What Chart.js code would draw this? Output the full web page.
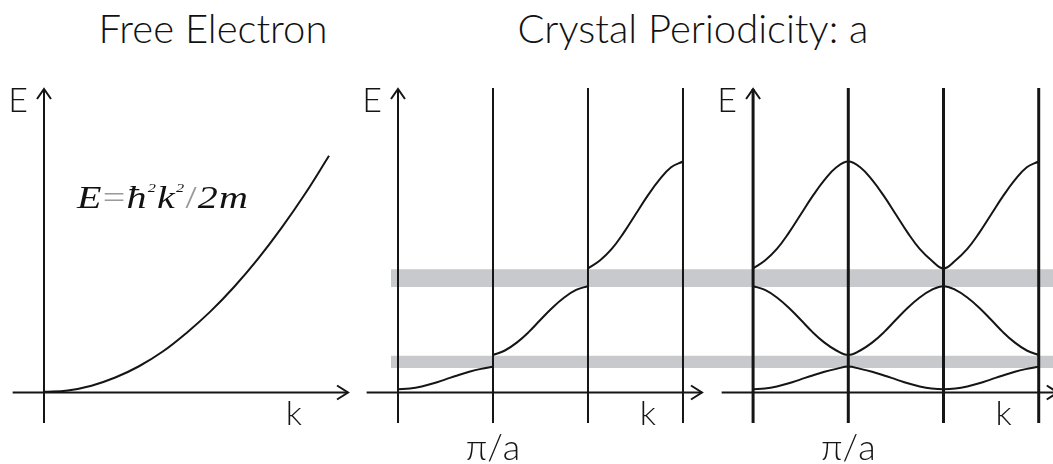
<!DOCTYPE html>
<html>
<head>
<meta charset="utf-8">
<script src="https://cdn.jsdelivr.net/npm/chart.js@4/dist/chart.umd.min.js"></script>
<style>
  html, body { margin: 0; padding: 0; background: #fff; }
  body { width: 1053px; height: 464px; position: relative; overflow: hidden; }
  .panel { position: absolute; top: 0; height: 464px; }
  .title { position: absolute; top: 8px; font-family: Lato, "Open Sans", sans-serif; font-weight: 300;
           font-size: 40px; line-height: 40px; color: #111; white-space: nowrap; text-align: center; }
  #formula { position: absolute; left: 77px; top: 181px; font-family: "Liberation Serif", serif; font-style: italic;
             font-size: 32px; line-height: 32px; letter-spacing: 1px; color: #111; white-space: nowrap;
             transform: scaleX(1.25); transform-origin: left top; }
  #formula .thin { font-style: normal; color: #999; }
  #formula sup { font-size: 13px; vertical-align: 16px; line-height: 0; }
</style>
</head>
<body>
<div class="title" style="left:63px; width:300px">Free Electron</div>
<div class="title" style="left:493px; width:400px">Crystal Periodicity: a</div>

<div class="panel" style="left:6px; width:354px"><canvas id="free" width="354" height="464"></canvas></div>
<div class="panel" style="left:360px; width:355px"><canvas id="extended" width="355" height="464"></canvas></div>
<div class="panel" style="left:715px; width:338px"><canvas id="reduced" width="338" height="464"></canvas></div>

<div id="formula">E<span class="thin">=</span>ħ<sup>2</sup>k<sup>2</sup><span class="thin">/</span>2m</div>

<script>
// k in units of pi/a, E in arbitrary units
const kFree = [0, 0.25, 0.5, 0.75, 1, 1.25, 1.5, 1.75, 2, 2.25, 2.5, 2.75, 3];
const eFree = [0.03, 0.08, 0.26, 0.57, 1.0, 1.56, 2.27, 3.08, 4.02, 5.08, 6.27, 7.58, 9.02];

// extended zone: one band per zone
const kCell = [0, 0.125, 0.25, 0.375, 0.5, 0.625, 0.75, 0.875, 1];
const bandLow = [0.12, 0.15, 0.23, 0.35, 0.50, 0.65, 0.79, 0.90, 0.98];
const bandMid = [1.43, 1.60, 1.90, 2.30, 2.77, 3.23, 3.62, 3.91, 4.05];
const bandTop = [4.73, 5.03, 5.47, 6.08, 6.78, 7.48, 8.10, 8.58, 8.80];

// periodic (repeated zone) picture
const kRepeat = [0, 0.125, 0.25, 0.375, 0.5, 0.625, 0.75, 0.875, 1,
                 1.125, 1.25, 1.375, 1.5, 1.625, 1.75, 1.875, 2,
                 2.125, 2.25, 2.375, 2.5, 2.625, 2.75, 2.875, 3];
const repLow = [0.12, 0.15, 0.23, 0.35, 0.50, 0.65, 0.79, 0.90, 0.99,
                0.90, 0.79, 0.65, 0.50, 0.35, 0.23, 0.15, 0.12,
                0.15, 0.23, 0.35, 0.50, 0.65, 0.79, 0.90, 0.98];
const repMid = [4.05, 3.91, 3.62, 3.23, 2.77, 2.30, 1.90, 1.60, 1.43,
                1.60, 1.90, 2.30, 2.77, 3.23, 3.62, 3.91, 4.05,
                3.91, 3.62, 3.23, 2.77, 2.30, 1.90, 1.60, 1.43];
const repTop = [4.73, 5.03, 5.47, 6.08, 6.78, 7.48, 8.10, 8.58, 8.80,
                8.58, 8.10, 7.48, 6.78, 6.08, 5.47, 5.03, 4.73,
                5.03, 5.47, 6.08, 6.78, 7.48, 8.10, 8.58, 8.80];

// band gaps [bottom, top]
const gapLower = [0.93, 1.40];
const gapUpper = [4.02, 4.70];

const zoneEdges = [1, 2, 3];
const tickValues = [1];
const tickLabels = ['π/a'];

const ink = '#151515';
const labelFont = '300 34px Lato, "Open Sans", sans-serif';

function pts(ks, es) {
    return ks.map((k, i) => ({x: k, y: es[i]}));
}
function shift(ks, d) {
    return ks.map(k => k + d);
}
function curve(data) {
    return {data: data, borderColor: ink, borderWidth: 2, pointRadius: 0, fill: false,
            tension: 0.4, order: 0};
}
function gap(edges, from, to) {
    return {data: [{x: from, y: edges[1]}, {x: to, y: edges[1]}],
            borderColor: 'rgba(0,0,0,0)', borderWidth: 0, pointRadius: 0, tension: 0,
            fill: {value: edges[0]}, backgroundColor: 'rgb(200,201,205)', order: 2};
}

/* axes with arrows, zone lines and labels */
const axesPlugin = {
    id: 'bandAxes',
    afterDatasetsDraw(chart, args, o) {
        const ctx = chart.ctx, xs = chart.scales.x, ys = chart.scales.y;
        const x0 = xs.getPixelForValue(0), y0 = ys.getPixelForValue(0);
        const top = ys.getPixelForValue(ys.max), bottom = ys.getPixelForValue(-1.16);
        const xl = xs.getPixelForValue(-0.33), xr = xs.getPixelForValue(3.2);
        ctx.save();
        ctx.strokeStyle = ink;
        ctx.lineCap = 'butt';

        // zone boundaries
        ctx.lineWidth = o.zoneWidth;
        (o.zones || []).forEach(z => {
            const px = xs.getPixelForValue(z);
            ctx.beginPath(); ctx.moveTo(px, bottom); ctx.lineTo(px, top); ctx.stroke();
        });

        // y axis
        ctx.lineWidth = o.zoneWidth;
        ctx.beginPath(); ctx.moveTo(x0, bottom); ctx.lineTo(x0, top + 1); ctx.stroke();
        ctx.lineWidth = 2;
        ctx.beginPath();
        ctx.moveTo(x0 - 7, top + 11); ctx.lineTo(x0, top + 1); ctx.lineTo(x0 + 7, top + 11);
        ctx.stroke();

        // x axis
        ctx.lineWidth = 2;
        ctx.beginPath(); ctx.moveTo(xl, y0); ctx.lineTo(xr, y0); ctx.stroke();
        ctx.beginPath();
        ctx.moveTo(xr - 11, y0 - 7); ctx.lineTo(xr, y0); ctx.lineTo(xr - 11, y0 + 7);
        ctx.stroke();

        // labels
        ctx.fillStyle = ink;
        ctx.font = labelFont;
        ctx.textBaseline = 'alphabetic';
        ctx.textAlign = 'right';
        ctx.fillText('E', x0 - 16, top + 24);
        ctx.textAlign = 'center';
        ctx.fillText('k', xs.getPixelForValue(2.63), 425);
        ctx.font = '300 36px Lato, "Open Sans", sans-serif';
        (o.ticks || []).forEach((v, i) => {
            ctx.fillText(tickLabels[i], xs.getPixelForValue(v), 460);
        });
        ctx.restore();
    }
};

function makeChart(id, datasets, xMin, xMax, pad, extra) {
    return new Chart(document.getElementById(id).getContext('2d'), {
        type: 'line',
        data: {datasets: datasets},
        options: {
            responsive: false,
            animation: false,
            layout: {padding: pad},
            scales: {
                x: {type: 'linear', min: xMin, max: xMax, display: false},
                y: {type: 'linear', min: -1.2, max: 11.6, display: false}
            },
            plugins: {
                legend: {display: false},
                tooltip: {enabled: false},
                bandAxes: extra
            }
        },
        plugins: [axesPlugin]
    });
}

// free electron parabola
makeChart('free', [curve(pts(kFree, eFree))], -0.4, 3.326,
    {left: 0, right: 0, top: 88, bottom: 40}, {zoneWidth: 2});

// extended zone
makeChart('extended', [
    curve(pts(kCell, bandLow)),
    curve(pts(shift(kCell, 1), bandMid)),
    curve(pts(shift(kCell, 2), bandTop)),
    gap(gapLower, -0.074, 3.34),
    gap(gapUpper, -0.074, 3.34)
], -0.4, 3.337, {left: 0, right: 0, top: 88, bottom: 40},
    {zoneWidth: 2, zones: zoneEdges, ticks: tickValues});

// periodic zone
makeChart('reduced', [
    curve(pts(kRepeat, repLow)),
    curve(pts(kRepeat, repMid)),
    curve(pts(kRepeat, repTop)),
    gap(gapLower, -0.4, 3.15),
    gap(gapUpper, -0.4, 3.15)
], -0.4, 3.15, {left: 0, right: 0, top: 88, bottom: 40},
    {zoneWidth: 3, zones: zoneEdges, ticks: tickValues});
</script>
</body>
</html>
